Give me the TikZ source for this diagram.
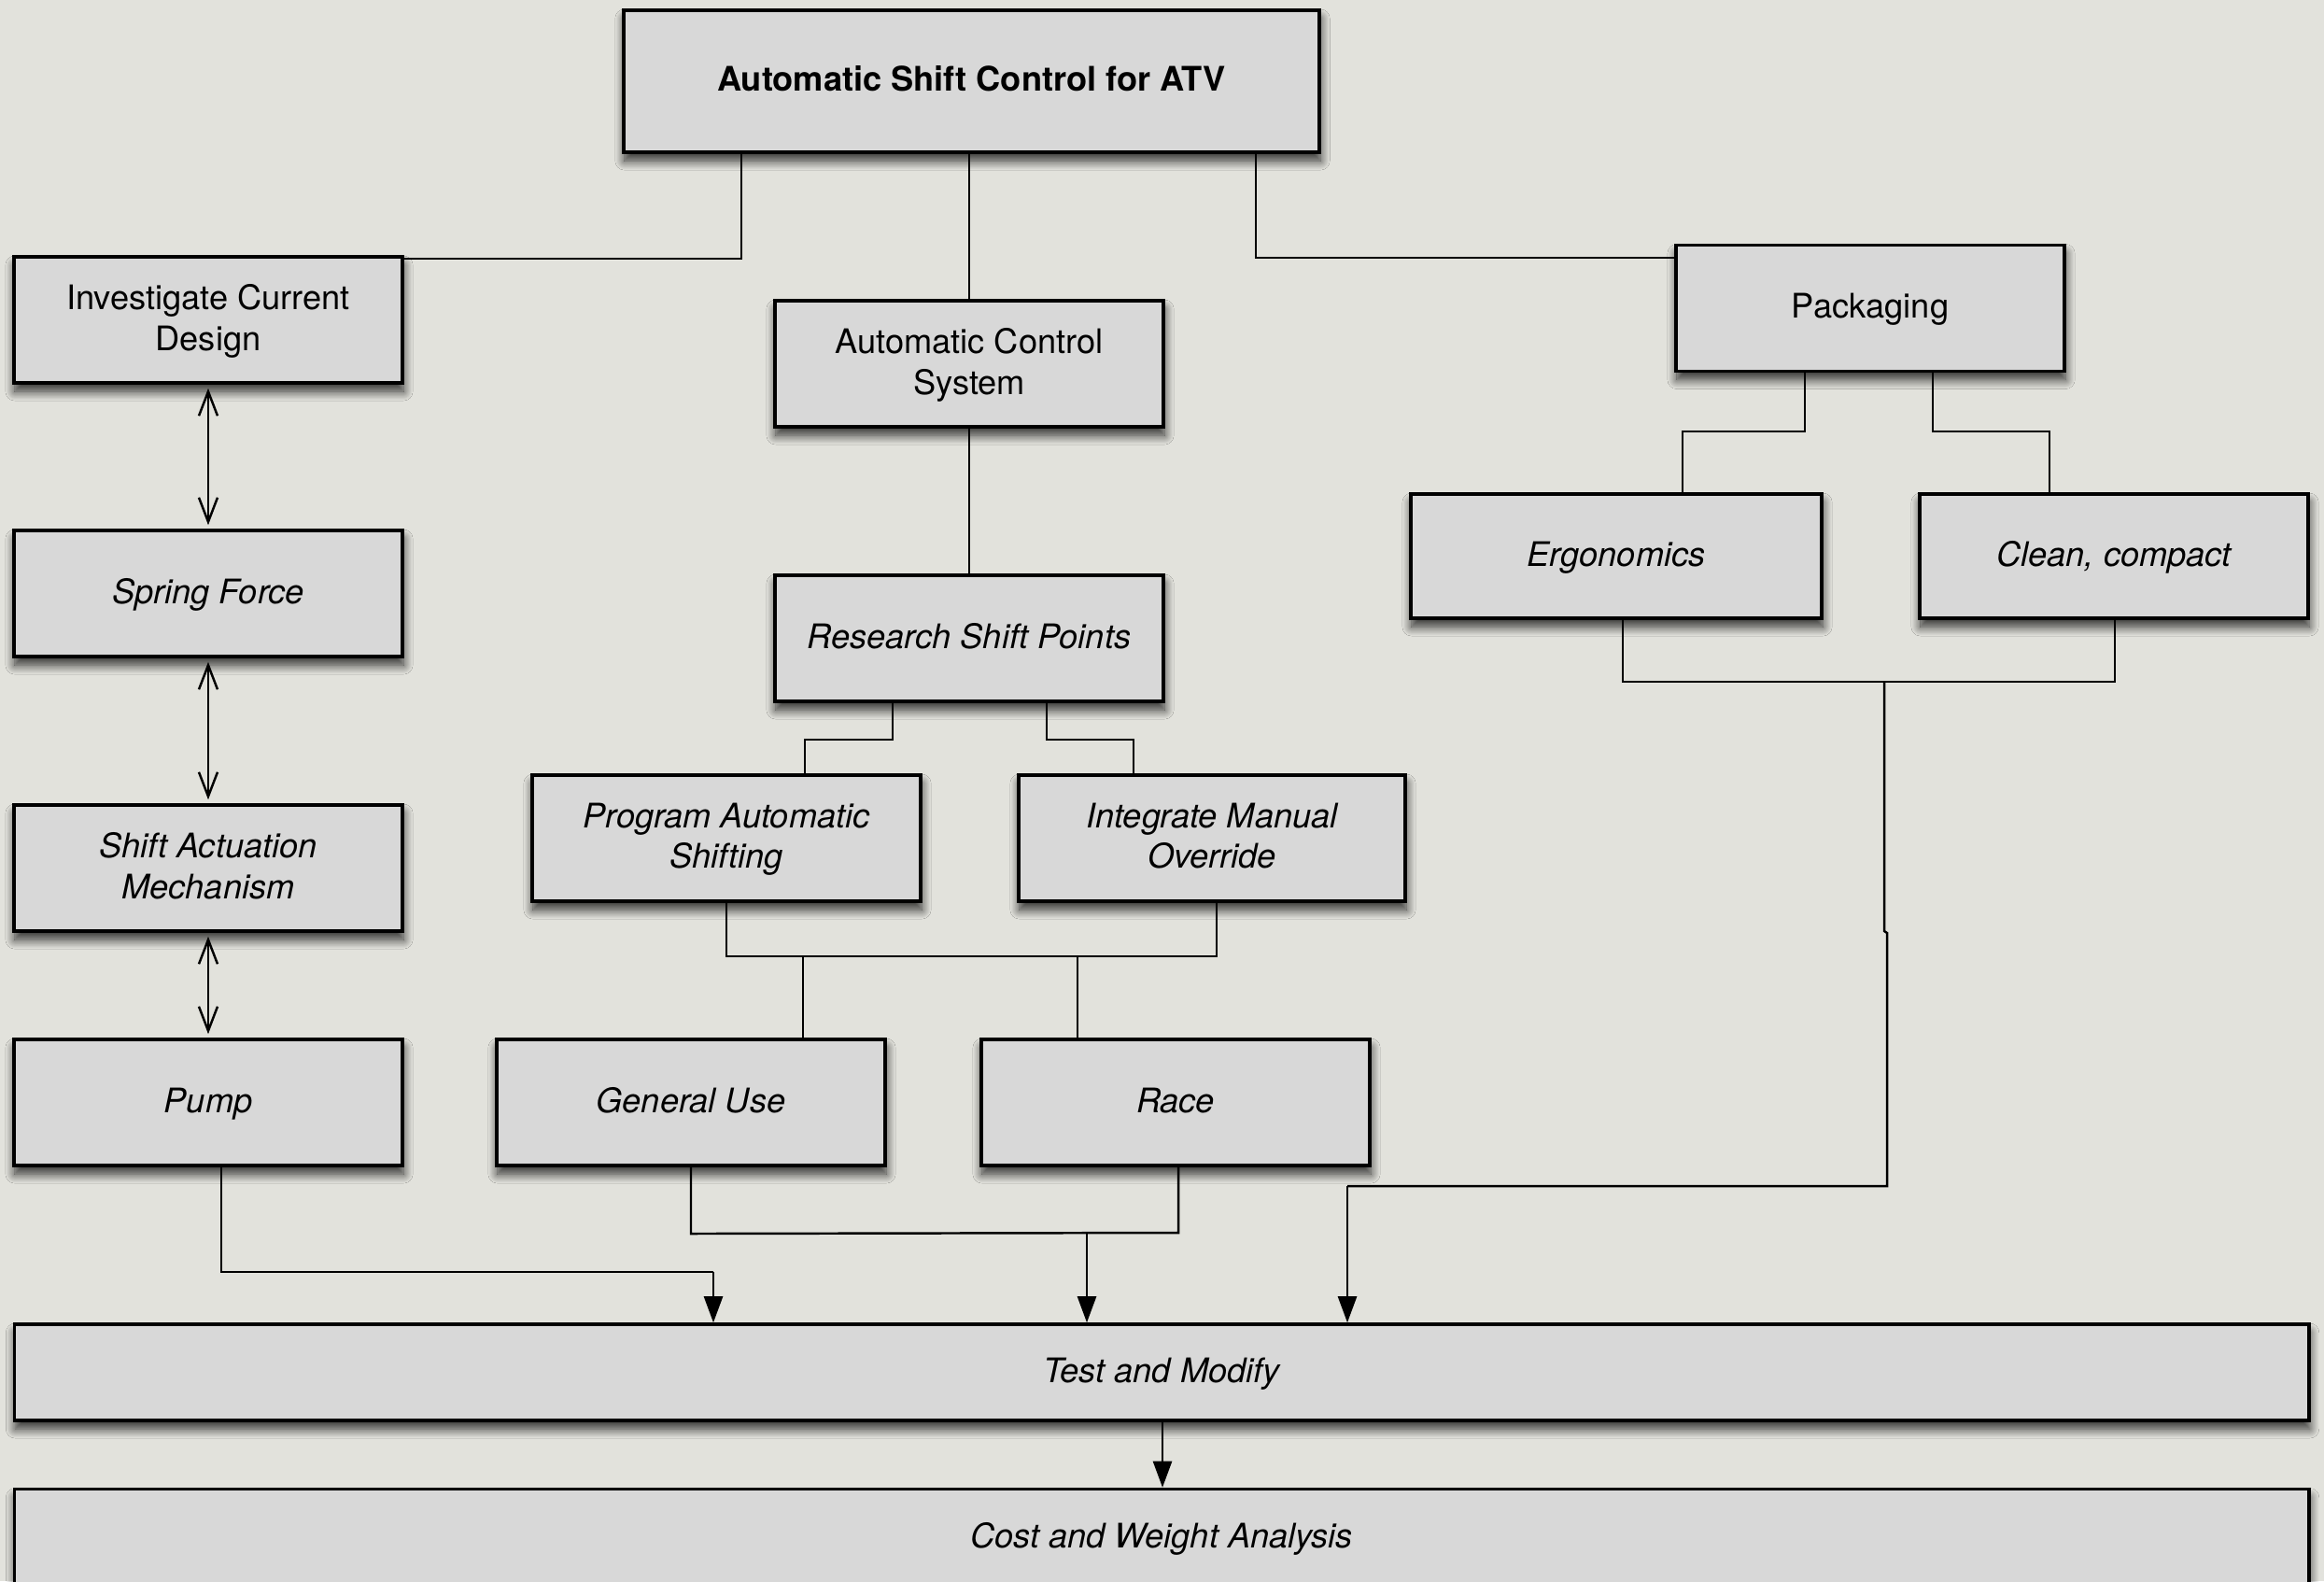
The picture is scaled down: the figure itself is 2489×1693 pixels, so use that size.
\documentclass[tikz,border=0pt]{standalone}
\usepackage{fontspec}
\setmainfont{TeX Gyre Heros}
\usetikzlibrary{arrows.meta,shadows.blur}
\definecolor{bgc}{HTML}{E2E2DC}
\definecolor{boxfill}{HTML}{D8D8D8}
\tikzset{
  box/.style={draw, line width=1pt, fill=boxfill, minimum width=4.16cm, minimum height=1.35cm,
    align=center, inner sep=0pt, text depth=0.05cm,
    blur shadow={shadow xshift=0.01cm, shadow yshift=-0.09cm, shadow blur radius=0.1cm, shadow blur steps=12, shadow opacity=80},
    font=\fontsize{10.3}{12.3}\selectfont},
  conn/.style={line width=0.7pt},
  farrow/.style={conn, -{Triangle[length=0.28cm, width=0.2cm]}},
  barrow/.style={conn, {Straight Barb[length=0.26cm, width=0.2cm]}-{Straight Barb[length=0.26cm, width=0.2cm]}, shorten <=0.04cm, shorten >=0.04cm}
}
\begin{document}
\begin{tikzpicture}[x=0.01cm, y=-0.01cm]
\useasboundingbox (0,0) rectangle (2489,1693);
\fill[bgc] (0,0) rectangle (2489,1693);
\begin{scope}
\clip (0,0) rectangle (2489,1693);
% nodes
\node[box, minimum width=7.45cm, minimum height=1.52cm, font=\fontsize{10.3}{12.3}\selectfont\bfseries] (top) at (1040.5,87) {Automatic Shift Control for ATV};
\node[box] (inv) at (223,342.5) {Investigate Current\\Design};
\node[box] (spring) at (223,635.5) {\itshape Spring Force};
\node[box] (shift) at (223,929.5) {\itshape Shift Actuation\\\itshape Mechanism};
\node[box] (pump) at (223,1180.5) {\itshape Pump};
\node[box] (acs) at (1038,389.5) {Automatic Control\\System};
\node[box] (rsp) at (1038,683.5) {\itshape Research Shift Points};
\node[box] (prog) at (778,897.5) {\itshape Program Automatic\\\itshape Shifting};
\node[box, minimum width=4.14cm] (integ) at (1298,897.5) {\itshape Integrate Manual\\\itshape Override};
\node[box] (pack) at (2003,330) {Packaging};
\node[box, minimum width=4.4cm, minimum height=1.33cm] (ergo) at (1731,595.5) {\itshape Ergonomics};
\node[box, minimum height=1.33cm] (clean) at (2264,595.5) {\itshape Clean, compact};
\node[box] (gen) at (740,1180.5) {\itshape General Use};
\node[box] (race) at (1259,1180.5) {\itshape Race};
\node[box, minimum width=24.56cm, minimum height=1.03cm] (test) at (1244,1469.5) {\itshape Test and Modify};
\node[box, minimum width=24.56cm, minimum height=1.03cm] (cost) at (1244,1646) {\itshape Cost and Weight Analysis};
% connectors from top
\draw[conn] (top.south -| 794,0) |- (inv.east |- 0,277);
\draw[conn] (top.south -| acs.north) -- (acs.north);
\draw[conn] (top.south -| 1345,0) |- (pack.west |- 0,276);
% left column
\draw[barrow] (inv.south) -- (spring.north);
\draw[barrow] (spring.south) -- (shift.north);
\draw[barrow] (shift.south) -- (pump.north);
% middle
\draw[conn] (acs.south) -- (rsp.north);
\draw[conn] (rsp.south -| 956,0) -- (956,792) -| (prog.north -| 862,0);
\draw[conn] (rsp.south -| 1121,0) -- (1121,792) -| (integ.north -| 1214,0);
\draw[conn] (prog.south -| 778,0) -- (778,1024) -- (1303,1024) -- (integ.south -| 1303,0);
\draw[conn] (860,1024) -- (gen.north -| 860,0);
\draw[conn] (1154,1024) -- (race.north -| 1154,0);
\draw[conn] (gen.south -| 740,0) -- (740,1321) -- (1262,1320) -- (race.south -| 1262,0);
\draw[farrow] (1164,1321) -- (test.north -| 1164,0);
% pump
\draw[conn] (pump.south -| 237,0) -- (237,1362) -- (764,1362);
\draw[farrow] (764,1362) -- (test.north -| 764,0);
% right
\draw[conn] (pack.south -| 1933,0) -- (1933,462) -| (ergo.north -| 1802,0);
\draw[conn] (pack.south -| 2070,0) -- (2070,462) -| (clean.north -| 2195,0);
\draw[conn] (ergo.south -| 1738,0) -- (1738,730) -- (2265,730) -- (clean.south -| 2265,0);
\draw[conn] (2018,730) -- (2018,997) -- (2021,999) -- (2021,1270) -- (1443,1270);
\draw[farrow] (1443,1270) -- (test.north -| 1443,0);
% test to cost
\draw[farrow] (test.south -| 1245,0) -- (cost.north -| 1245,0);
\end{scope}
\end{tikzpicture}
\end{document}
